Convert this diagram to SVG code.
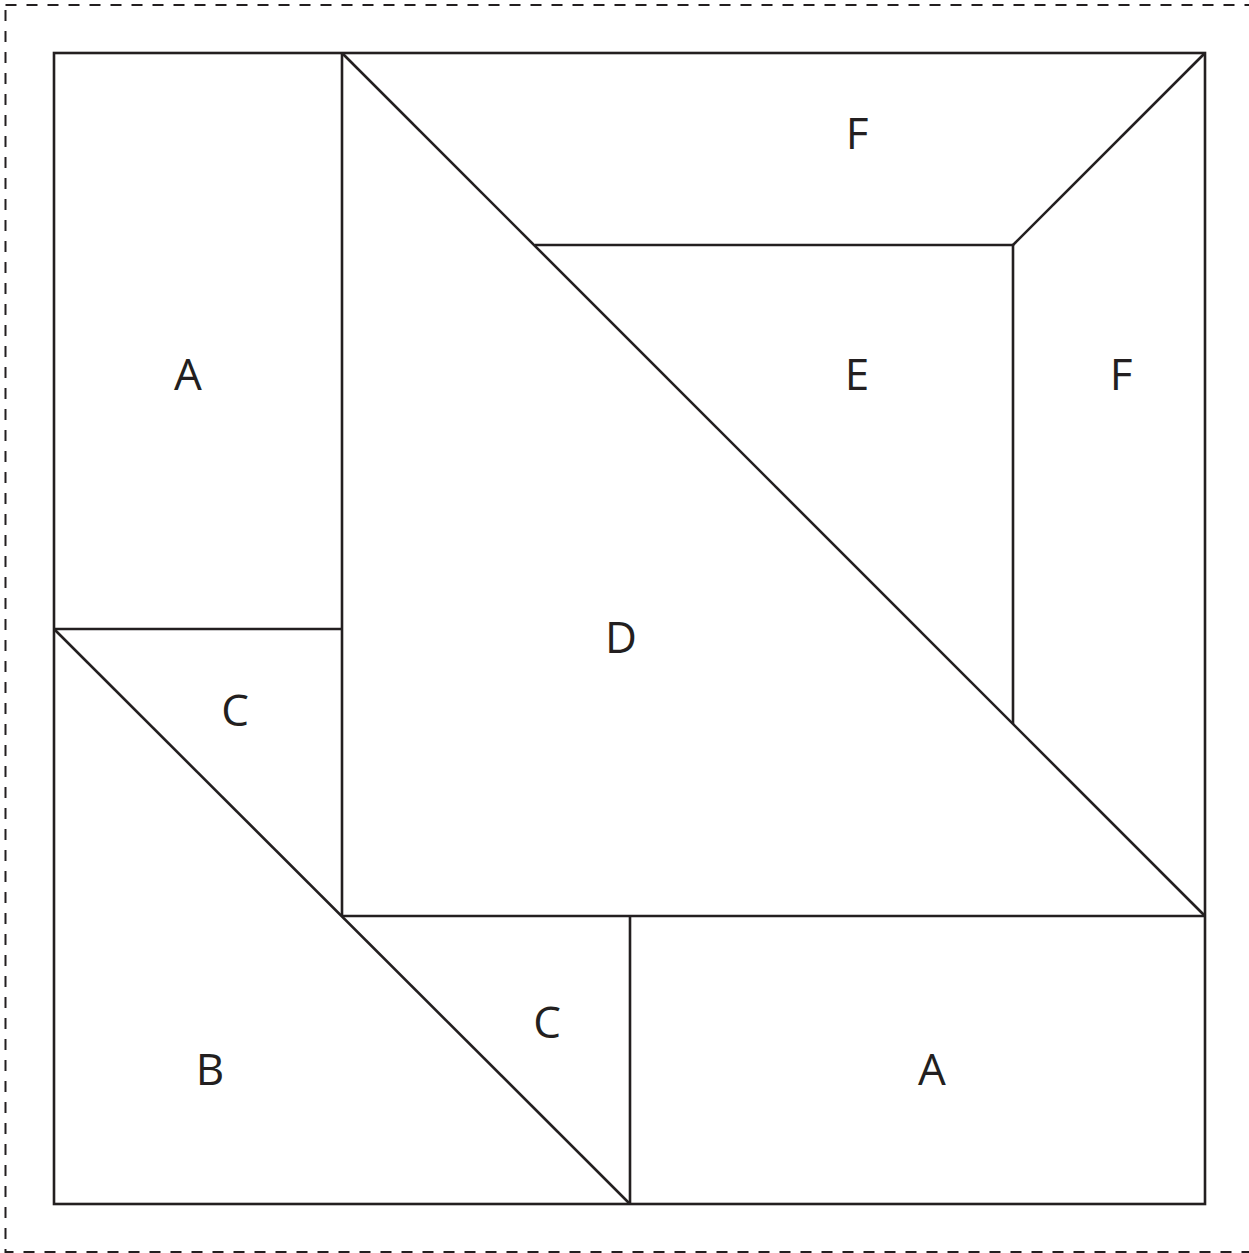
<svg xmlns="http://www.w3.org/2000/svg" width="1249" height="1253" viewBox="0 0 1249 1253">
<style>
.ln{stroke:#231f20;stroke-width:2.6;fill:none;stroke-linecap:butt}
.bd{stroke:#231f20;stroke-width:2;fill:none;stroke-dasharray:11 10}
.lb{font-family:"Open Sans","Liberation Sans",sans-serif;font-size:44px;fill:#231f20;text-anchor:middle}
</style>
<rect width="1249" height="1253" fill="#fff"/>
<rect class="bd" x="5.5" y="5" width="1260" height="1247"/>
<g id="connectors">
<rect class="ln" x="54" y="53" width="1151" height="1151"/>
<line class="ln" x1="342" y1="53" x2="342" y2="916"/>
<line class="ln" x1="54" y1="629" x2="342" y2="629"/>
<line class="ln" x1="342" y1="916" x2="1205" y2="916"/>
<line class="ln" x1="630" y1="916" x2="630" y2="1204"/>
<line class="ln" x1="342" y1="53" x2="1205" y2="916"/>
<line class="ln" x1="54" y1="629" x2="630" y2="1204"/>
<line class="ln" x1="535" y1="245" x2="1013" y2="245"/>
<line class="ln" x1="1013" y1="245" x2="1013" y2="724"/>
<line class="ln" x1="1013" y1="245" x2="1205" y2="53"/>
</g>
<g id="nA1"><text class="lb" x="188" y="390">A</text></g>
<g id="nF1"><text class="lb" x="857" y="149">F</text></g>
<g id="nE"><text class="lb" x="857" y="390">E</text></g>
<g id="nF2"><text class="lb" x="1121" y="390">F</text></g>
<g id="nD"><text class="lb" x="621" y="653">D</text></g>
<g id="nC1"><text class="lb" x="235" y="726">C</text></g>
<g id="nC2"><text class="lb" x="547" y="1038">C</text></g>
<g id="nB"><text class="lb" x="210" y="1085">B</text></g>
<g id="nA2"><text class="lb" x="932" y="1085">A</text></g>
</svg>
